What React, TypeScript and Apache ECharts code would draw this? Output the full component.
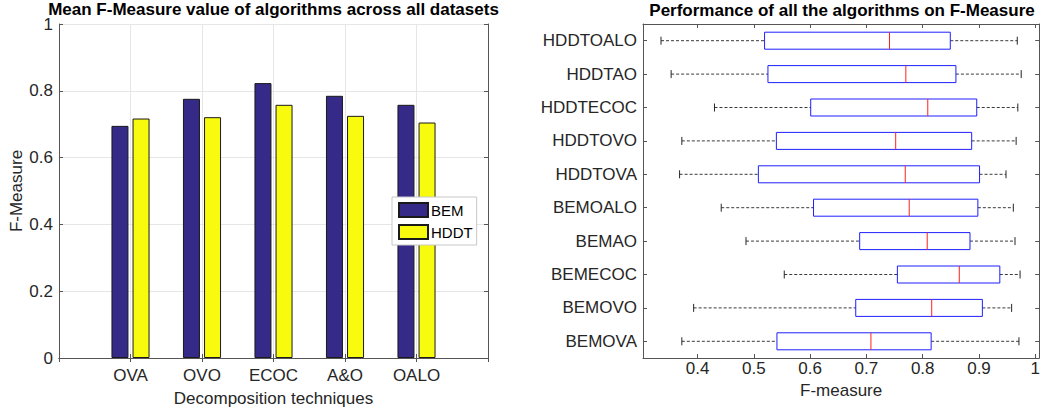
import { useEffect, useRef } from 'react';
import * as echarts from 'echarts';

const decompositionTechniques = ['OVA', 'OVO', 'ECOC', 'A&O', 'OALO'];
const bemMeans = [0.695, 0.776, 0.823, 0.785, 0.758];
const hddtMeans = [0.717, 0.721, 0.758, 0.725, 0.705];

const algorithms = ['BEMOVA', 'BEMOVO', 'BEMECOC', 'BEMAO', 'BEMOALO', 'HDDTOVA', 'HDDTOVO', 'HDDTECOC', 'HDDTAO', 'HDDTOALO'];
const whiskerLow = [0.372, 0.393, 0.554, 0.486, 0.442, 0.368, 0.372, 0.430, 0.353, 0.335];
const q1 = [0.541, 0.681, 0.755, 0.688, 0.606, 0.508, 0.540, 0.601, 0.525, 0.519];
const median = [0.708, 0.816, 0.865, 0.808, 0.776, 0.769, 0.752, 0.809, 0.770, 0.741];
const q3 = [0.815, 0.906, 0.937, 0.884, 0.898, 0.901, 0.887, 0.896, 0.859, 0.849];
const whiskerHigh = [0.971, 0.958, 0.973, 0.964, 0.961, 0.948, 0.966, 0.969, 0.975, 0.968];
const fMeasureTicks = [0.4, 0.5, 0.6, 0.7, 0.8, 0.9, 1];

const FONT = 'Liberation Sans, Arial, Helvetica, sans-serif';
const TXT = '#262626';
const AX = '#555555';

export default function App() {
  const ref = useRef<HTMLDivElement>(null);
  useEffect(() => {
    if (!ref.current) return;
    const chart = echarts.init(ref.current, undefined, { renderer: 'svg' });
    const padCats = ['', ...decompositionTechniques, ''];
    const padBem: any[] = ['-', ...bemMeans, '-'];
    const padHddt: any[] = ['-', ...hddtMeans, '-'];
    const boxData = algorithms.map((_, i) => [i, whiskerLow[i], q1[i], median[i], q3[i], whiskerHigh[i]]);

    const tickStyle = { show: true, inside: true, length: 4, lineStyle: { color: AX } };
    const lineStyle = { show: true, lineStyle: { color: AX, width: 1 } };

    chart.setOption({
      animation: false,
      textStyle: { fontFamily: FONT },
      grid: [
        { left: 59, right: 555, top: 24, bottom: 56 },
        { left: 643, right: 1, top: 24, bottom: 56 },
      ],
      graphic: [
        {
          type: 'text', x: 273.5, y: 9,
          style: { text: 'Mean F-Measure value of algorithms across all datasets', font: `bold 17px ${FONT}`, lineHeight: 14, fill: '#000', textAlign: 'center', textVerticalAlign: 'middle' },
        },
        {
          type: 'text', x: 842, y: 10.5,
          style: { text: 'Performance of all the algorithms on F-Measure', font: `bold 17px ${FONT}`, lineHeight: 15, fill: '#000', textAlign: 'center', textVerticalAlign: 'middle' },
        },
      ],
      legend: {
        data: ['BEM', 'HDDT'],
        orient: 'vertical',
        left: 392, top: 197,
        itemWidth: 29, itemHeight: 14, itemGap: 6,
        padding: [5, 4, 5, 6],
        borderColor: '#c8c8c8', borderWidth: 1, backgroundColor: '#fff',
        icon: 'rect',
        textStyle: { fontSize: 15, color: '#000', fontFamily: FONT, padding: [0, 0, 0, -2] },
      },
      xAxis: [
        {
          type: 'category', gridIndex: 0, data: padCats, boundaryGap: false,
          axisLine: lineStyle, axisTick: { ...tickStyle, interval: 0 },
          axisLabel: { interval: 0, fontSize: 17, color: TXT, margin: 9 },
          splitLine: { show: true, interval: 0, lineStyle: { color: '#e6e6e6' } },
          name: 'Decomposition techniques', nameLocation: 'middle', nameGap: 32,
          nameTextStyle: { fontSize: 17, color: TXT },
        },
        {
          type: 'category', gridIndex: 0, data: padCats, boundaryGap: false, position: 'top',
          axisLine: lineStyle, axisTick: { ...tickStyle, interval: 0 }, axisLabel: { show: false }, splitLine: { show: false },
        },
        {
          type: 'value', gridIndex: 1, min: 0.303, max: 1.007,
          axisLine: lineStyle,
          axisTick: { ...tickStyle, customValues: fMeasureTicks },
          axisLabel: { fontSize: 17, color: TXT, margin: 2, customValues: fMeasureTicks, formatter: (v: number) => String(Math.round(v * 10) / 10) },
          splitLine: { show: false },
          name: 'F-measure', nameLocation: 'middle', nameGap: 22,
          nameTextStyle: { fontSize: 17, color: TXT },
        },
        {
          type: 'value', gridIndex: 1, min: 0.303, max: 1.007, position: 'top',
          axisLine: lineStyle,
          axisTick: { ...tickStyle, customValues: fMeasureTicks },
          axisLabel: { show: false, customValues: fMeasureTicks },
          splitLine: { show: false },
        },
      ],
      yAxis: [
        {
          type: 'value', gridIndex: 0, min: 0, max: 1, interval: 0.2,
          axisLine: lineStyle, axisTick: tickStyle,
          axisLabel: { fontSize: 17, lineHeight: 11, color: TXT, margin: 6 },
          splitLine: { show: true, lineStyle: { color: '#e6e6e6' } },
          name: 'F-Measure', nameLocation: 'middle', nameGap: 33, nameRotate: 90,
          nameTextStyle: { fontSize: 17, color: TXT },
        },
        {
          type: 'value', gridIndex: 0, min: 0, max: 1, interval: 0.2, position: 'right',
          axisLine: lineStyle, axisTick: tickStyle, axisLabel: { show: false }, splitLine: { show: false },
        },
        {
          type: 'category', gridIndex: 1, data: algorithms, boundaryGap: true,
          axisLine: lineStyle, axisTick: { ...tickStyle, alignWithLabel: true, interval: 0 },
          axisLabel: { interval: 0, fontSize: 17, color: TXT, margin: 6 },
          splitLine: { show: false },
        },
        {
          type: 'category', gridIndex: 1, data: algorithms, boundaryGap: true, position: 'right',
          axisLine: lineStyle, axisTick: { ...tickStyle, alignWithLabel: true, interval: 0 },
          axisLabel: { show: false }, splitLine: { show: false },
        },
      ],
      series: [
        {
          name: 'BEM', type: 'bar', xAxisIndex: 0, yAxisIndex: 0, data: padBem,
          barWidth: 17, barGap: '24%',
          itemStyle: { color: '#352a87', borderColor: '#1a1a1a', borderWidth: 1 },
        },
        {
          name: 'HDDT', type: 'bar', xAxisIndex: 0, yAxisIndex: 0, data: padHddt,
          barWidth: 17, barGap: '24%',
          itemStyle: { color: '#f9fb0e', borderColor: '#1a1a1a', borderWidth: 1 },
        },
        {
          type: 'custom', xAxisIndex: 2, yAxisIndex: 2, data: boxData,
          encode: { x: [1, 2, 3, 4, 5], y: 0 },
          renderItem: (params: any, api: any) => {
            const yi = api.value(0);
            const lo = api.coord([api.value(1), yi]);
            const a = api.coord([api.value(2), yi]);
            const m = api.coord([api.value(3), yi]);
            const b = api.coord([api.value(4), yi]);
            const hi = api.coord([api.value(5), yi]);
            const y = lo[1];
            const h = 17;
            const cap = 4;
            const dash = { stroke: '#3a3a3a', lineWidth: 1, lineDash: [3, 2] };
            const solid = { stroke: '#262626', lineWidth: 1 };
            return {
              type: 'group',
              children: [
                { type: 'line', shape: { x1: lo[0], y1: y, x2: a[0], y2: y }, style: dash },
                { type: 'line', shape: { x1: b[0], y1: y, x2: hi[0], y2: y }, style: dash },
                { type: 'line', shape: { x1: lo[0], y1: y - cap, x2: lo[0], y2: y + cap }, style: solid },
                { type: 'line', shape: { x1: hi[0], y1: y - cap, x2: hi[0], y2: y + cap }, style: solid },
                { type: 'rect', shape: { x: a[0], y: y - h / 2, width: b[0] - a[0], height: h }, style: { fill: 'none', stroke: '#1f1fff', lineWidth: 1 } },
                { type: 'line', shape: { x1: m[0], y1: y - h / 2, x2: m[0], y2: y + h / 2 }, style: { stroke: '#ff2020', lineWidth: 1 } },
              ],
            };
          },
        },
      ],
    });
    return () => chart.dispose();
  }, []);
  return <div ref={ref} style={{ position: 'absolute', left: 0, top: 0, width: 1043, height: 414 }} />;
}
